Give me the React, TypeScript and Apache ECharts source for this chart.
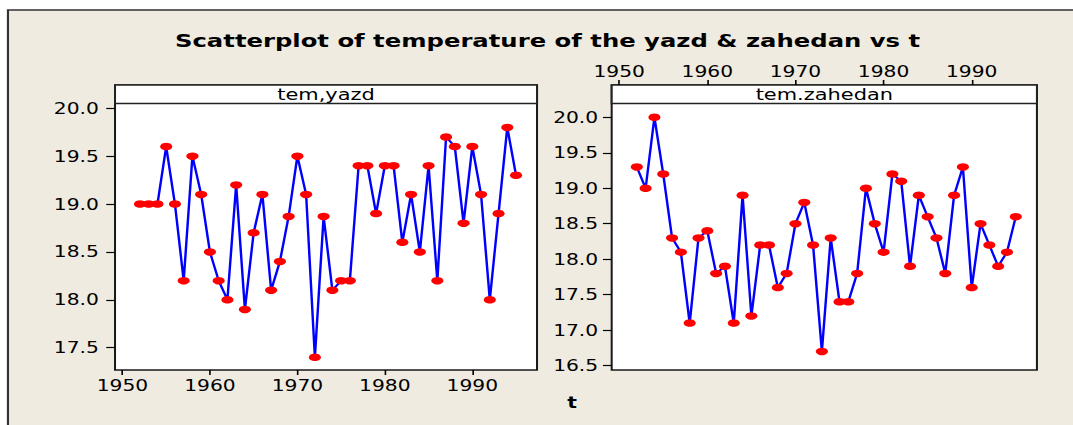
import React, { useEffect, useRef } from "react";
import * as echarts from "echarts";

// ---- data ----
const years = [
  1952, 1953, 1954, 1955, 1956, 1957, 1958, 1959, 1960, 1961, 1962,
  1963, 1964, 1965, 1966, 1967, 1968, 1969, 1970, 1971, 1972, 1973,
  1974, 1975, 1976, 1977, 1978, 1979, 1980, 1981, 1982, 1983, 1984,
  1985, 1986, 1987, 1988, 1989, 1990, 1991, 1992, 1993, 1994, 1995,
];
const temYazd = [
  19.0, 19.0, 19.0, 19.6, 19.0, 18.2, 19.5, 19.1, 18.5, 18.2, 18.0,
  19.2, 17.9, 18.7, 19.1, 18.1, 18.4, 18.87, 19.5, 19.1, 17.4, 18.87,
  18.1, 18.2, 18.2, 19.4, 19.4, 18.9, 19.4, 19.4, 18.6, 19.1, 18.5,
  19.4, 18.2, 19.7, 19.6, 18.8, 19.6, 19.1, 18.0, 18.9, 19.8, 19.3,
];
const temZahedan = [
  19.3, 19.0, 20.0, 19.2, 18.3, 18.1, 17.1, 18.3, 18.4, 17.8, 17.9,
  17.1, 18.9, 17.2, 18.2, 18.2, 17.6, 17.8, 18.5, 18.8, 18.2, 16.7,
  18.3, 17.4, 17.4, 17.8, 19.0, 18.5, 18.1, 19.2, 19.1, 17.9, 18.9,
  18.6, 18.3, 17.8, 18.9, 19.3, 17.6, 18.5, 18.2, 17.9, 18.1, 18.6,
];
const yearTicks = [1950, 1960, 1970, 1980, 1990];
const yazdTicks = [17.5, 18.0, 18.5, 19.0, 19.5, 20.0];
const zahedanTicks = [16.5, 17.0, 17.5, 18.0, 18.5, 19.0, 19.5, 20.0];

const titleText = "Scatterplot of temperature of the yazd & zahedan vs t";
const panelNames = ["tem,yazd", "tem.zahedan"];
const xName = "t";

// ---- layout (unstretched chart coordinates) ----
const S = 1.35; // horizontal stretch of the whole picture
const PAGE_W = 1073;
const PAGE_H = 425;
const CW = PAGE_W / S;

const G0 = { left: 85.2, width: 312.6 };
const G1 = { left: 453.1, width: 315.0 };
const GTOP = 85;
const GH = 285;
const STRIP_H = 18.5;

const FONT = "'DejaVu Sans', Verdana, sans-serif";

export default function App() {
  const ref = useRef<HTMLDivElement>(null);

  useEffect(() => {
    if (!ref.current) return;
    const chart = echarts.init(ref.current, undefined, { renderer: "svg" });

    const labelStyle = { color: "#000", fontFamily: FONT, fontSize: 15 };
    const mk = (v: number[]) => years.map((y, i) => [y, v[i]]);

    const xAxisBase = (gridIndex: number, position: "top" | "bottom", margin: number) => ({
      type: "value" as const,
      gridIndex,
      position,
      min: 1949.15,
      max: 1997.4,
      splitLine: { show: false },
      axisLine: { show: false },
      axisTick: {
        show: true,
        length: 5,
        customValues: yearTicks,
        lineStyle: { color: "#000", width: 1.2 },
      },
      axisLabel: {
        ...labelStyle,
        margin,
        customValues: yearTicks,
        formatter: (v: number) => String(v),
      },
    });

    const yAxisBase = (gridIndex: number, min: number, max: number, ticks: number[], margin: number) => ({
      type: "value" as const,
      gridIndex,
      min,
      max,
      splitLine: { show: false },
      axisLine: { show: false },
      axisTick: {
        show: true,
        length: 6.5,
        customValues: ticks,
        lineStyle: { color: "#000", width: 1.2 },
      },
      axisLabel: {
        ...labelStyle,
        margin,
        customValues: ticks,
        formatter: (v: number) => v.toFixed(1),
      },
    });

    const seriesBase = {
      type: "line" as const,
      symbol: "circle",
      symbolSize: [9, 7.5],
      showSymbol: true,
      lineStyle: { color: "#0000FF", width: 1.8 },
      itemStyle: { color: "#FF0000" },
      z: 3,
    };

    const strip = (g: { left: number; width: number }, name: string) => ({
      type: "group",
      z: 20,
      children: [
        {
          type: "rect",
          shape: { x: g.left, y: GTOP, width: g.width, height: STRIP_H },
          style: { fill: "#fff", stroke: "#222", lineWidth: 1.5 },
        },
        {
          type: "text",
          x: g.left + g.width / 2,
          y: GTOP + STRIP_H / 2 + 0.5,
          style: {
            text: name,
            fill: "#000",
            font: `15.5px ${FONT}`,
            textAlign: "center",
            textVerticalAlign: "middle",
          },
        },
      ],
    });

    chart.setOption({
      animation: false,
      backgroundColor: "#fff",
      grid: [
        {
          left: G0.left, top: GTOP, width: G0.width, height: GH,
          show: true, backgroundColor: "#fff", borderColor: "#1a1a1a", borderWidth: 1.5,
        },
        {
          left: G1.left, top: GTOP, width: G1.width, height: GH,
          show: true, backgroundColor: "#fff", borderColor: "#1a1a1a", borderWidth: 1.5,
        },
      ],
      xAxis: [xAxisBase(0, "bottom", 8), xAxisBase(1, "top", 6)],
      yAxis: [
        yAxisBase(0, 17.267, 20.243, yazdTicks, 12),
        yAxisBase(1, 16.439, 20.455, zahedanTicks, 10),
      ],
      series: [
        { ...seriesBase, name: panelNames[0], xAxisIndex: 0, yAxisIndex: 0, data: mk(temYazd) },
        { ...seriesBase, name: panelNames[1], xAxisIndex: 1, yAxisIndex: 1, data: mk(temZahedan) },
      ],
      graphic: [
        {
          type: "rect",
          z: -10,
          silent: true,
          shape: { x: 5.9, y: 10, width: CW + 20, height: PAGE_H + 20 },
          style: { fill: "#EFEBE0", stroke: "#333", lineWidth: 1.6 },
        },
        strip(G0, panelNames[0]),
        strip(G1, panelNames[1]),
        {
          type: "text",
          z: 20,
          x: 405.6,
          y: 41,
          style: {
            text: titleText,
            fill: "#000",
            font: `bold 18px ${FONT}`,
            textAlign: "center",
            textVerticalAlign: "middle",
          },
        },
        {
          type: "text",
          z: 20,
          x: 423.7,
          y: 403,
          style: {
            text: xName,
            fill: "#000",
            font: `bold 15px ${FONT}`,
            textAlign: "center",
            textVerticalAlign: "middle",
          },
        },
      ],
    });

    return () => chart.dispose();
  }, []);

  return (
    <div
      style={{
        position: "absolute",
        left: 0,
        top: 0,
        width: PAGE_W,
        height: PAGE_H,
        overflow: "hidden",
        background: "#fff",
      }}
    >
      <div
        ref={ref}
        style={{
          width: CW,
          height: PAGE_H,
          transform: `scaleX(${S})`,
          transformOrigin: "0 0",
        }}
      />
    </div>
  );
}
